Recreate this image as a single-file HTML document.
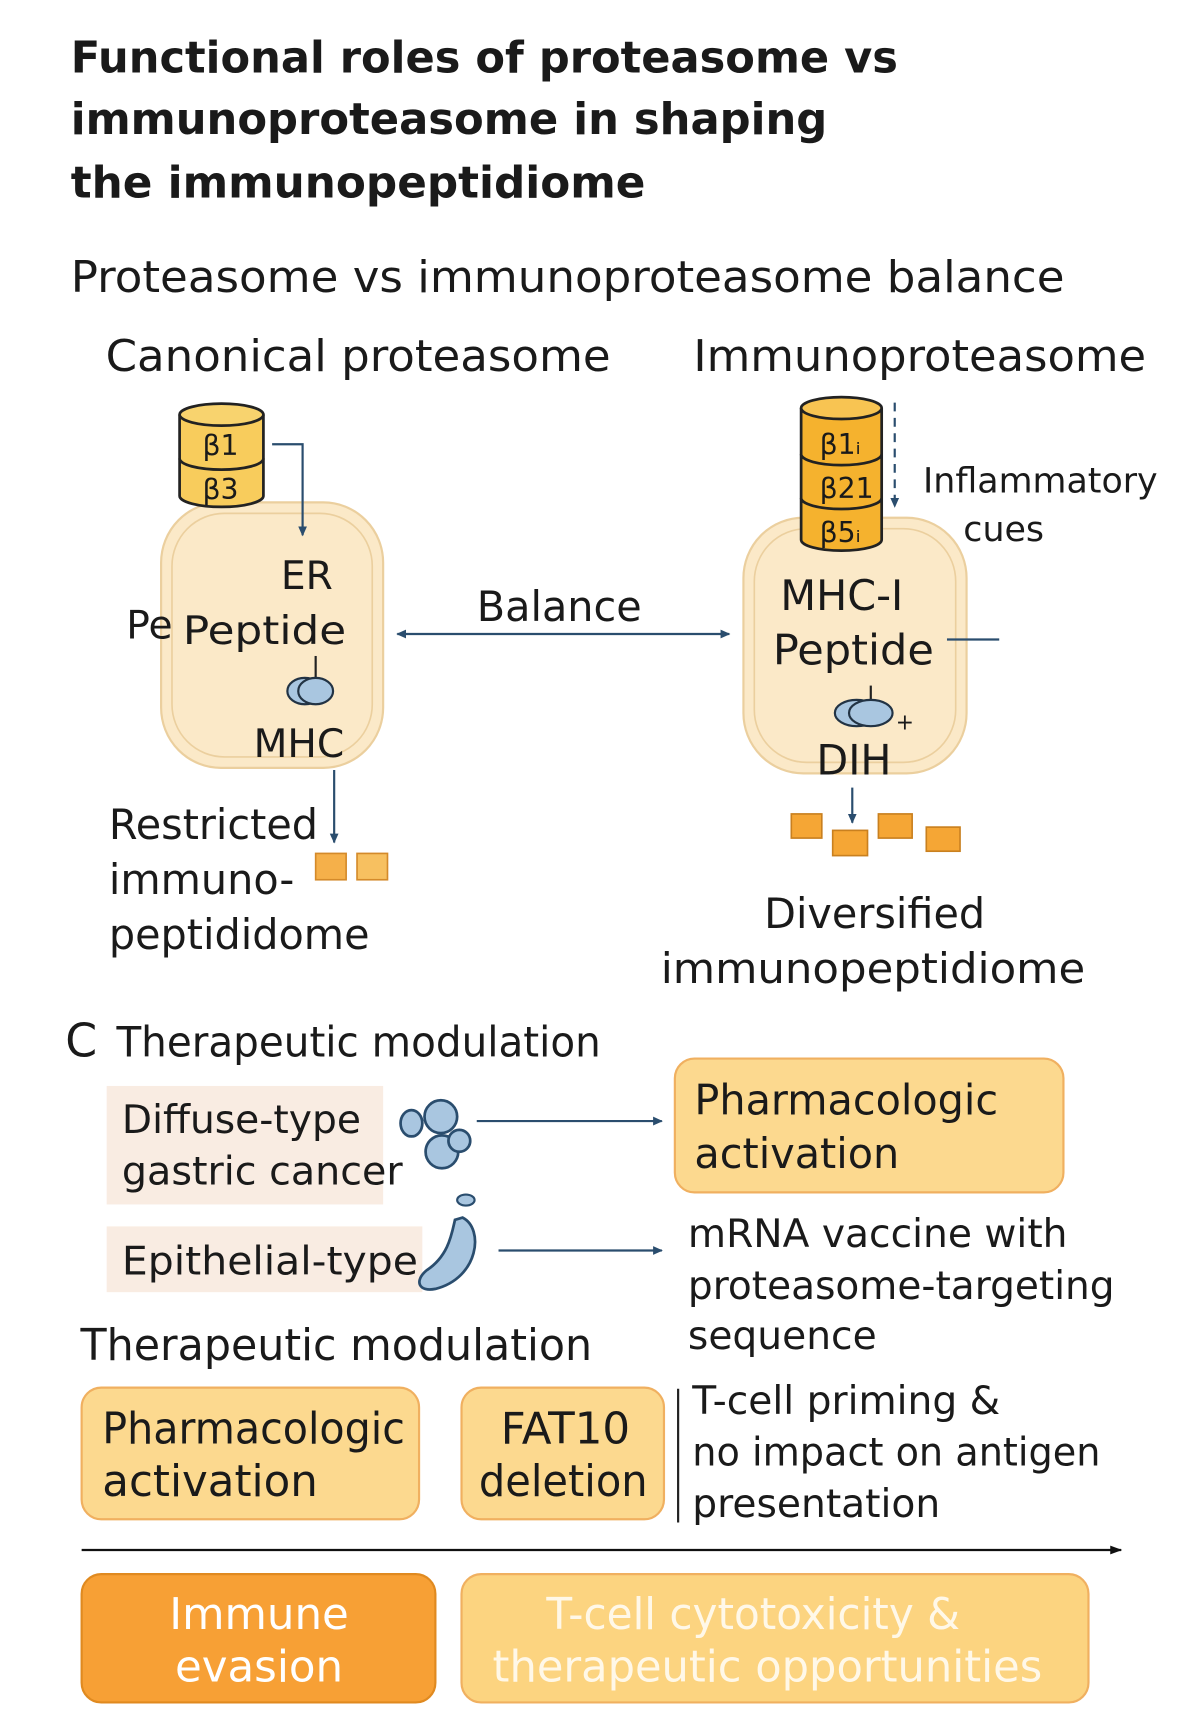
<!DOCTYPE html>
<html><head><meta charset="utf-8"><style>
html,body{margin:0;padding:0;background:#fff}
svg{display:block}
text{font-family:"DejaVu Sans","Liberation Sans",sans-serif;fill:#1a1a1a}
</style></head><body>
<svg width="1181" height="1720" viewBox="0 0 1085 1568" preserveAspectRatio="none">
<defs>
<marker id="a" markerWidth="10" markerHeight="10" refX="8" refY="5" orient="auto" markerUnits="userSpaceOnUse"><path d="M0,1 L9,5 L0,9 Z" fill="#2a4d6e"/></marker>
<marker id="b" markerWidth="10" markerHeight="10" refX="8" refY="5" orient="auto-start-reverse" markerUnits="userSpaceOnUse"><path d="M0,1 L9,5 L0,9 Z" fill="#2a4d6e"/></marker>
<marker id="k" markerWidth="12" markerHeight="10" refX="10" refY="5" orient="auto" markerUnits="userSpaceOnUse"><path d="M0,1 L11,5 L0,9 Z" fill="#111"/></marker>
</defs>
<rect width="1085" height="1568" fill="#fff"/>
<g font-weight="bold" font-size="40">
<text x="65" y="66" textLength="760" lengthAdjust="spacingAndGlyphs">Functional roles of proteasome vs</text>
<text x="65" y="122" textLength="695" lengthAdjust="spacingAndGlyphs">immunoproteasome in shaping</text>
<text x="65" y="180" textLength="528" lengthAdjust="spacingAndGlyphs">the immunopeptidiome</text>
</g>
<text x="65" y="266" font-size="40" textLength="913" lengthAdjust="spacingAndGlyphs">Proteasome vs immunoproteasome balance</text>
<text x="97" y="338" font-size="40" textLength="464" lengthAdjust="spacingAndGlyphs">Canonical proteasome</text>
<text x="637" y="338" font-size="40" textLength="416" lengthAdjust="spacingAndGlyphs">Immunoproteasome</text>

<rect x="148" y="458" width="204" height="242" rx="55" fill="#fbe9c8" stroke="#ebcf9e" stroke-width="2"/>
<rect x="158" y="468" width="184" height="222" rx="48" fill="none" stroke="#ebcf9e" stroke-width="1.5"/>
<path d="M165,378 L165,452 A38,10 0 0 0 242,452 L242,378" fill="#f8cc5c" stroke="#222" stroke-width="2.5"/>
<path d="M165,418 A38,10 0 0 0 242,418" fill="none" stroke="#222" stroke-width="2.5"/>
<ellipse cx="203.5" cy="378" rx="38.5" ry="10" fill="#f8d36e" stroke="#222" stroke-width="2.5"/>
<text x="186" y="415" font-size="26">β1</text>
<text x="186" y="455" font-size="26">β3</text>
<path d="M250,405 L278,405 L278,488" fill="none" stroke="#2a4d6e" stroke-width="2" marker-end="url(#a)"/>
<text x="258" y="537" font-size="36">ER</text>
<text x="116" y="582" font-size="36">Pe</text>
<text x="168" y="587" font-size="36" textLength="150" lengthAdjust="spacingAndGlyphs">Peptide</text>
<line x1="290" y1="598" x2="290" y2="620" stroke="#222" stroke-width="2"/>
<ellipse cx="280" cy="630" rx="16" ry="12" fill="#a9c6e0" stroke="#234" stroke-width="2"/>
<ellipse cx="290" cy="630" rx="16" ry="12" fill="#a9c6e0" stroke="#234" stroke-width="2"/>
<text x="233" y="690" font-size="36">MHC</text>
<line x1="307" y1="702" x2="307" y2="768" stroke="#2a4d6e" stroke-width="2" marker-end="url(#a)"/>
<text x="100" y="765" font-size="38">Restricted</text>
<text x="100" y="815" font-size="38">immuno-</text>
<text x="100" y="865" font-size="38">peptididome</text>
<rect x="290" y="778" width="28" height="24" fill="#f5b04a" stroke="#d48a2a" stroke-width="1.5"/>
<rect x="328" y="778" width="28" height="24" fill="#f7c060" stroke="#d48a2a" stroke-width="1.5"/>

<text x="438" y="566" font-size="38">Balance</text>
<line x1="365" y1="578" x2="670" y2="578" stroke="#2a4d6e" stroke-width="2" marker-start="url(#b)" marker-end="url(#a)"/>

<rect x="683" y="472" width="205" height="233" rx="55" fill="#fbe9c8" stroke="#ebcf9e" stroke-width="2"/>
<rect x="693" y="482" width="185" height="213" rx="48" fill="none" stroke="#ebcf9e" stroke-width="1.5"/>
<path d="M736,372 L736,492 A37,10 0 0 0 810,492 L810,372" fill="#f5b22e" stroke="#222" stroke-width="2.5"/>
<path d="M736,414 A37,10 0 0 0 810,414" fill="none" stroke="#222" stroke-width="2.5"/>
<path d="M736,454 A37,10 0 0 0 810,454" fill="none" stroke="#222" stroke-width="2.5"/>
<ellipse cx="773" cy="372" rx="37" ry="10" fill="#f8c452" stroke="#222" stroke-width="2.5"/>
<text x="753" y="414" font-size="26">β1ᵢ</text>
<text x="753" y="454" font-size="26">β21</text>
<text x="753" y="494" font-size="26">β5ᵢ</text>
<line x1="822" y1="367" x2="822" y2="462" stroke="#2a4d6e" stroke-width="2" stroke-dasharray="8,6" marker-end="url(#a)"/>
<text x="848" y="449" font-size="32">Inflammatory</text>
<text x="885" y="493" font-size="32">cues</text>
<text x="717" y="556" font-size="38">MHC-I</text>
<text x="710" y="606" font-size="38" textLength="148" lengthAdjust="spacingAndGlyphs">Peptide</text>
<line x1="870" y1="583" x2="918" y2="583" stroke="#2a4d6e" stroke-width="2"/>
<line x1="800" y1="625" x2="800" y2="642" stroke="#222" stroke-width="2"/>
<ellipse cx="787" cy="650" rx="20" ry="12" fill="#a9c6e0" stroke="#234" stroke-width="2"/>
<ellipse cx="800" cy="650" rx="20" ry="12" fill="#a9c6e0" stroke="#234" stroke-width="2"/>
<text x="823" y="665" font-size="20">+</text>
<text x="750" y="706" font-size="38">DIH</text>
<line x1="783" y1="718" x2="783" y2="750" stroke="#2a4d6e" stroke-width="2" marker-end="url(#a)"/>
<rect x="727" y="742" width="28" height="22" fill="#f5a635" stroke="#c9801f" stroke-width="1.5"/>
<rect x="765" y="757" width="32" height="23" fill="#f5a635" stroke="#c9801f" stroke-width="1.5"/>
<rect x="807" y="742" width="31" height="22" fill="#f5a635" stroke="#c9801f" stroke-width="1.5"/>
<rect x="851" y="754" width="31" height="22" fill="#f5a635" stroke="#c9801f" stroke-width="1.5"/>
<text x="702" y="846" font-size="38">Diversified</text>
<text x="607" y="896" font-size="38" textLength="390" lengthAdjust="spacingAndGlyphs">immunopeptidiome</text>

<text x="60" y="963" font-size="42">C</text>
<text x="107" y="963" font-size="38" textLength="445" lengthAdjust="spacingAndGlyphs">Therapeutic modulation</text>
<rect x="98" y="990" width="254" height="108" fill="#f9ece2"/>
<text x="112" y="1033" font-size="36">Diffuse-type</text>
<text x="112" y="1080" font-size="36" textLength="258" lengthAdjust="spacingAndGlyphs">gastric cancer</text>
<g fill="#a9c6e0" stroke="#2a4d6e" stroke-width="2.5">
<ellipse cx="378" cy="1024" rx="10" ry="12"/>
<circle cx="405" cy="1018" r="15"/>
<circle cx="406" cy="1050" r="15"/>
<circle cx="422" cy="1040" r="10"/>
</g>
<line x1="438" y1="1022" x2="608" y2="1022" stroke="#2a4d6e" stroke-width="2" marker-end="url(#a)"/>
<rect x="620" y="965" width="357" height="122" rx="18" fill="#fcd98f" stroke="#f0b060" stroke-width="2"/>
<text x="638" y="1016" font-size="38">Pharmacologic</text>
<text x="638" y="1065" font-size="38">activation</text>
<rect x="98" y="1118" width="290" height="60" fill="#f9ece2"/>
<text x="112" y="1162" font-size="36" textLength="272" lengthAdjust="spacingAndGlyphs">Epithelial-type</text>
<ellipse cx="428" cy="1094" rx="8" ry="5" fill="#a9c6e0" stroke="#2a4d6e" stroke-width="2"/>
<path d="M425,1110 C445,1120 440,1165 400,1175 C385,1178 380,1168 392,1158 C412,1145 415,1125 418,1112 Z" fill="#a9c6e0" stroke="#2a4d6e" stroke-width="2.5"/>
<line x1="458" y1="1140" x2="608" y2="1140" stroke="#2a4d6e" stroke-width="2" marker-end="url(#a)"/>
<text x="632" y="1137" font-size="36">mRNA vaccine with</text>
<text x="632" y="1184" font-size="36" textLength="392" lengthAdjust="spacingAndGlyphs">proteasome-targeting</text>
<text x="632" y="1230" font-size="36">sequence</text>
<text x="74" y="1240" font-size="40" textLength="470" lengthAdjust="spacingAndGlyphs">Therapeutic modulation</text>
<rect x="75" y="1265" width="310" height="120" rx="18" fill="#fcd98f" stroke="#f0b060" stroke-width="2"/>
<text x="94" y="1316" font-size="40" textLength="278" lengthAdjust="spacingAndGlyphs">Pharmacologic</text>
<text x="94" y="1364" font-size="40">activation</text>
<rect x="424" y="1265" width="186" height="120" rx="18" fill="#fcd98f" stroke="#f0b060" stroke-width="2"/>
<text x="460" y="1316" font-size="40">FAT10</text>
<text x="440" y="1364" font-size="40" textLength="155" lengthAdjust="spacingAndGlyphs">deletion</text>
<line x1="623" y1="1266" x2="623" y2="1388" stroke="#222" stroke-width="2"/>
<text x="636" y="1289" font-size="36">T-cell priming &amp;</text>
<text x="636" y="1336" font-size="36" textLength="375" lengthAdjust="spacingAndGlyphs">no impact on antigen</text>
<text x="636" y="1383" font-size="36">presentation</text>
<line x1="75" y1="1413" x2="1030" y2="1413" stroke="#111" stroke-width="2" marker-end="url(#k)"/>
<rect x="75" y="1435" width="325" height="117" rx="18" fill="#f7a035" stroke="#e08a20" stroke-width="2"/>
<text x="238" y="1485" font-size="40" text-anchor="middle" style="fill:#fff">Immune</text>
<text x="238" y="1533" font-size="40" text-anchor="middle" style="fill:#fff">evasion</text>
<rect x="424" y="1435" width="576" height="117" rx="18" fill="#fcd480" stroke="#f0b060" stroke-width="2"/>
<text x="692" y="1485" font-size="40" text-anchor="middle" style="fill:#fff8e8" textLength="380" lengthAdjust="spacingAndGlyphs">T-cell cytotoxicity &amp;</text>
<text x="705" y="1533" font-size="40" text-anchor="middle" style="fill:#fff8e8" textLength="505" lengthAdjust="spacingAndGlyphs">therapeutic opportunities</text>
</svg>
</body></html>
